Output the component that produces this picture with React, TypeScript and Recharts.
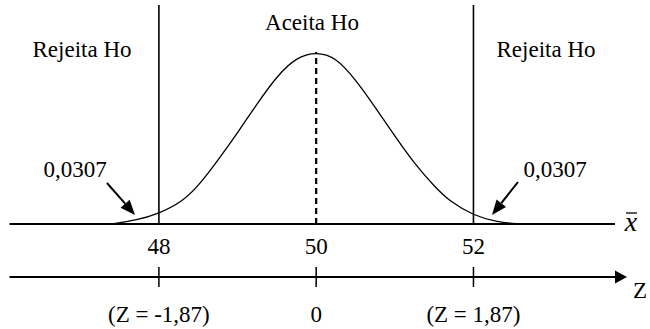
import { ComposedChart, Line, XAxis, YAxis, ReferenceLine, Customized } from 'recharts';

// sample mean axis (x̄) and the bell curve heights, peak = 1
const CURVE_X = [47.4, 47.7, 48.0, 48.3, 48.5, 48.75, 49.0, 49.25, 49.5, 49.75, 50.0, 50.25, 50.5, 50.75, 51.0, 51.25, 51.5, 51.7, 52.0, 52.3, 52.6];
const CURVE_Y = [0, 0.02, 0.06, 0.13, 0.22, 0.37, 0.53, 0.7, 0.86, 0.97, 1.0, 0.97, 0.84, 0.68, 0.51, 0.35, 0.22, 0.13, 0.05, 0.01, 0];

const MEAN = 50;
const CRITICAL = [48, 52];
const X_TICKS = [48, 50, 52];
const Z_LABELS = ['(Z = -1,87)', '0', '(Z = 1,87)'];
const TAIL_AREA = '0,0307';

const X_DOMAIN: [number, number] = [46.1, 53.8];
const Y_DOMAIN: [number, number] = [0, 1.273];

const FONT = 'Liberation Serif, Times New Roman, serif';
const INK = '#000';

const data = CURVE_X.map((x, i) => ({ x, y: CURVE_Y[i] }));

const headPoints = (fx: number, fy: number, tx: number, ty: number, len = 15, half = 6) => {
  const dx = tx - fx;
  const dy = ty - fy;
  const d = Math.hypot(dx, dy);
  const ux = dx / d;
  const uy = dy / d;
  const bx = tx - ux * len;
  const by = ty - uy * len;
  return {
    base: [bx, by],
    pts: `${tx},${ty} ${bx - uy * half},${by + ux * half} ${bx + uy * half},${by - ux * half}`,
  };
};

const Pointer = ({ from, to }: { from: [number, number]; to: [number, number] }) => {
  const h = headPoints(from[0], from[1], to[0], to[1]);
  return (
    <g>
      <line x1={from[0]} y1={from[1]} x2={h.base[0]} y2={h.base[1]} stroke={INK} strokeWidth={2} />
      <polygon points={h.pts} fill={INK} />
    </g>
  );
};

const txt = { fontFamily: FONT, fontSize: 23, fill: INK };

const Annotations = () => (
  <g>
    <text x={82} y={57} textAnchor="middle" style={txt}>Rejeita Ho</text>
    <text x={312} y={30} textAnchor="middle" style={txt}>Aceita Ho</text>
    <text x={546} y={57} textAnchor="middle" style={txt}>Rejeita Ho</text>
    <text x={75} y={177} textAnchor="middle" style={txt}>{TAIL_AREA}</text>
    <text x={555} y={177} textAnchor="middle" style={txt}>{TAIL_AREA}</text>
    <Pointer from={[107, 183]} to={[135, 215]} />
    <Pointer from={[518, 182]} to={[492, 215]} />
    {/* x-bar label */}
    <text x={631} y={231} textAnchor="middle" style={{ ...txt, fontStyle: 'italic', fontSize: 28 }}>x</text>
    <line x1={626} x2={637} y1={213} y2={213} stroke={INK} strokeWidth={1.3} />
    {/* Z axis arrow */}
    <polygon points="615,270.5 627,277 615,283.5" fill={INK} />
    <text x={640} y={298} textAnchor="middle" style={txt}>Z</text>
  </g>
);

const ZTick = ({ x, y, payload }: any) => {
  const idx = X_TICKS.indexOf(payload.value);
  return (
    <g>
      <line x1={x} x2={x} y1={y - 10} y2={y + 10} stroke={INK} strokeWidth={1.5} />
      <text x={x} y={y + 45} textAnchor="middle" style={txt}>
        {Z_LABELS[idx]}
      </text>
    </g>
  );
};

export default function App() {
  return (
    <div style={{ position: 'absolute', left: 0, top: 0, background: '#fff' }}>
      <ComposedChart
        width={650}
        height={329}
        data={data}
        margin={{ top: 5, right: 35, bottom: 0, left: 9.5 }}
      >
        <XAxis
          dataKey="x"
          type="number"
          domain={X_DOMAIN}
          allowDataOverflow
          ticks={X_TICKS}
          height={53}
          tickLine={false}
          tickSize={0}
          tickMargin={14}
          axisLine={{ stroke: INK, strokeWidth: 2 }}
          tick={{ fill: INK, fontSize: 23, fontFamily: FONT, style: { fontFamily: FONT } }}
        />
        <XAxis
          xAxisId="z"
          dataKey="x"
          type="number"
          domain={X_DOMAIN}
          allowDataOverflow
          ticks={X_TICKS}
          height={52}
          tickLine={false}
          tickSize={0}
          tickMargin={0}
          axisLine={{ stroke: INK, strokeWidth: 1.8 }}
          tick={<ZTick />}
        />
        <YAxis hide type="number" domain={Y_DOMAIN} allowDataOverflow />
        {CRITICAL.map((c) => (
          <ReferenceLine key={c} x={c} stroke={INK} strokeWidth={1.6} />
        ))}
        <ReferenceLine
          segment={[{ x: MEAN, y: 0 }, { x: MEAN, y: 1 }]}
          stroke={INK}
          strokeWidth={2.2}
          strokeDasharray="6 4"
        />
        <Line
          dataKey="y"
          type="basis"
          stroke={INK}
          strokeWidth={1.3}
          dot={false}
          activeDot={false}
          isAnimationActive={false}
        />
        <Customized component={<Annotations />} />
      </ComposedChart>
    </div>
  );
}
